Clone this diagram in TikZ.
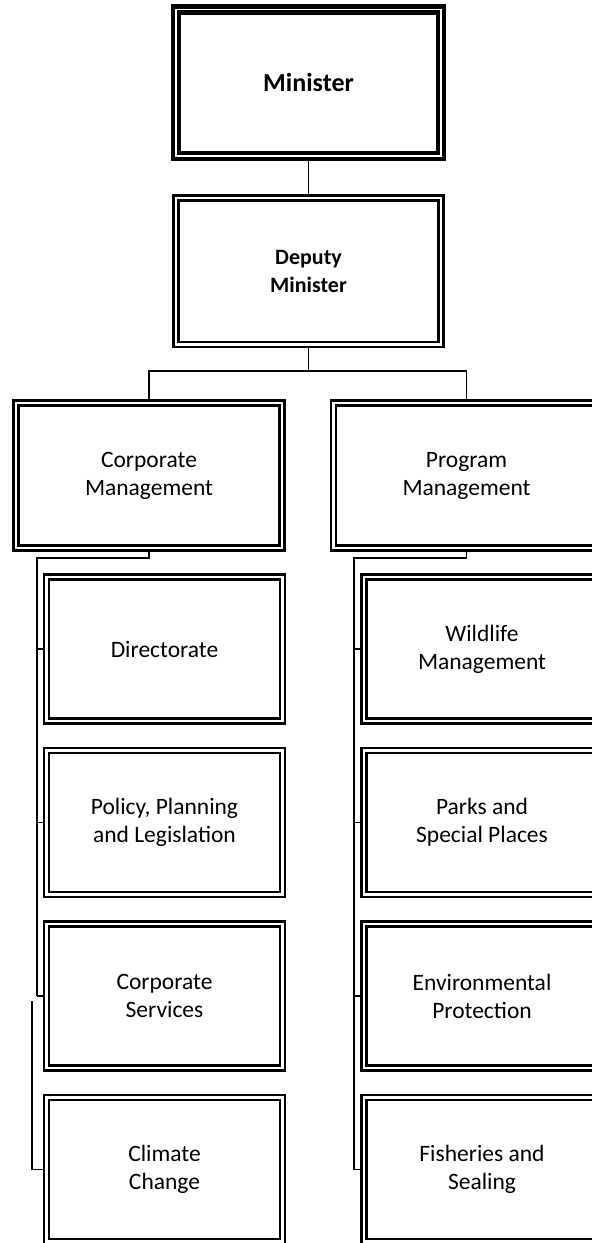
\documentclass[tikz,border=0pt]{standalone}
\usepackage{fontspec}
\setmainfont{Carlito}
\usetikzlibrary{backgrounds}

\tikzset{
  box/.style={draw, double, inner sep=0pt, outer sep=0pt, align=center,
    font=\fontsize{23.5}{28}\selectfont},
  minbox/.style={box, line width=4.5pt, double distance=1.2pt,
    minimum width=265pt, minimum height=146.5pt,
    font=\fontsize{26}{31}\selectfont\bfseries},
  depbox/.style={box, line width=2.8pt, double distance=2.2pt,
    minimum width=265pt, minimum height=146.5pt,
    font=\fontsize{22}{28}\selectfont\bfseries},
  unitbox/.style={box, line width=2.8pt, double distance=2.2pt,
    minimum width=266pt, minimum height=145.6pt},
  subbox/.style={box, line width=2.3pt, double distance=2.5pt,
    minimum width=236pt, minimum height=144pt},
  link/.style={line width=1.8pt}
}

\begin{document}
\begin{tikzpicture}[x=1pt,y=-1pt]
  \useasboundingbox (0,0) rectangle (592,1243);

  % top of the chart
  \node[minbox] (min)  at (308.5,82.75)  {Minister};
  \node[depbox] (dep)  at (308.5,271.25) {Deputy\\Minister};
  \node[unitbox] (corp) at (149,475.5)   {Corporate\\Management};
  \node[unitbox] (prog) at (466.5,475.5) {Program\\Management};

  % corporate side
  \node[subbox] (dir)   at (164.5,649)    {Directorate};
  \node[subbox] (pol)   at (164.5,822.5)  {Policy, Planning\\and Legislation};
  \node[subbox] (cserv) at (164.5,996)    {Corporate\\Services};
  \node[subbox] (clim)  at (164.5,1169.5) {Climate\\Change};

  % program side
  \node[subbox] (wild)  at (482,649)    {Wildlife\\Management};
  \node[subbox] (parks) at (482,822.5)  {Parks and\\Special Places};
  \node[subbox] (env)   at (482,996)    {Environmental\\Protection};
  \node[subbox] (fish)  at (482,1169.5) {Fisheries and\\Sealing};

  \coordinate (ltrunk) at (37,558);
  \coordinate (ljog)   at (32,1001);
  \coordinate (rtrunk) at (354,558);

  \begin{scope}[on background layer]
    \draw[link] (min) -- (dep);
    \draw[link] (dep.south) -- ++(0,26.5) -| (corp.north);
    \draw[link] (dep.south) -- ++(0,26.5) -| (prog.north);

    \draw[link] (corp.south) |- (ltrunk) -- (ltrunk |- cserv.west);
    \foreach \n in {dir,pol,cserv}
      \draw[link] (ltrunk |- \n.west) -- (\n.west);
    \draw[link] (ljog) |- (clim.west);

    \draw[link] (prog.south) |- (rtrunk) -- (rtrunk |- fish.west);
    \foreach \n in {wild,parks,env,fish}
      \draw[link] (rtrunk |- \n.west) -- (\n.west);
  \end{scope}
\end{tikzpicture}
\end{document}
